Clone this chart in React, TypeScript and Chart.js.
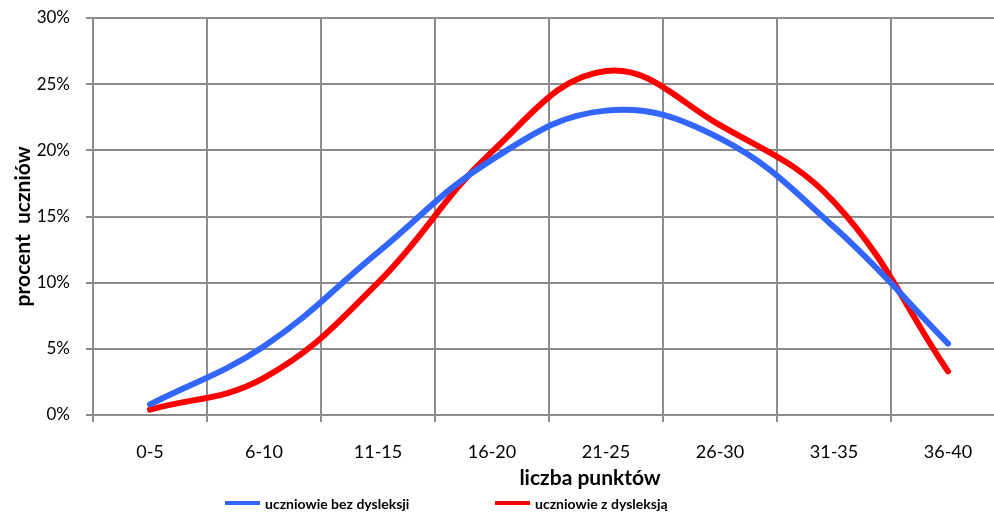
import React, { useEffect, useRef } from "react";
import { Chart, registerables } from "chart.js";

Chart.register(...registerables);

// Score ranges (points) and share of students in each range (%)
const categories = ["0-5", "6-10", "11-15", "16-20", "21-25", "26-30", "31-35", "36-40"];
const withoutDyslexia = [0.8, 5.2, 12.3, 19.3, 23.0, 20.9, 14.2, 5.4];
const withDyslexia = [0.4, 2.8, 10.0, 19.9, 26.0, 21.9, 16.1, 3.3];
const yTicks = [0, 5, 10, 15, 20, 25, 30];

const seriesLabels = ["uczniowie bez dysleksji", "uczniowie z dysleksją"];
const seriesColors = ["#3366FF", "#FF0000"];
const xTitle = "liczba punktów";
const yTitle = "procent  uczniów";

const FONT = "Lato, 'Open Sans', sans-serif";

// Axis titles, placed relative to the plot area
const axisTitlesPlugin = {
  id: "axisTitlesPlugin",
  afterDraw(chart: any) {
    const { ctx, chartArea } = chart;
    const w = chartArea.right - chartArea.left;
    const h = chartArea.bottom - chartArea.top;
    ctx.save();
    ctx.font = `bold 21px ${FONT}`;
    ctx.fillStyle = "#000";
    ctx.textAlign = "center";
    ctx.textBaseline = "middle";
    ctx.fillText(xTitle, chartArea.left + w * 0.545, chartArea.bottom + 63);
    ctx.translate(23, chartArea.top + h * 0.525);
    ctx.rotate(-Math.PI / 2);
    ctx.fillText(yTitle, 0, 0);
    ctx.restore();
  },
};

export default function App() {
  const canvasRef = useRef<HTMLCanvasElement | null>(null);

  useEffect(() => {
    if (!canvasRef.current) return;
    const chart = new Chart(canvasRef.current, {
      type: "line",
      data: {
        labels: categories,
        datasets: [
          {
            label: seriesLabels[0],
            data: withoutDyslexia,
            borderColor: seriesColors[0],
            backgroundColor: seriesColors[0],
            borderWidth: 6,
            pointRadius: 0,
            tension: 0.4,
            borderCapStyle: "round",
            borderJoinStyle: "round",
          },
          {
            label: seriesLabels[1],
            data: withDyslexia,
            borderColor: seriesColors[1],
            backgroundColor: seriesColors[1],
            borderWidth: 6,
            pointRadius: 0,
            tension: 0.4,
            borderCapStyle: "round",
            borderJoinStyle: "round",
          },
        ],
      },
      options: {
        responsive: false,
        animation: false,
        devicePixelRatio: 1,
        layout: { padding: { left: 0, right: 15, top: 18, bottom: 0 } },
        plugins: {
          legend: { display: false },
          tooltip: { enabled: false },
        },
        scales: {
          x: {
            type: "category",
            offset: true,
            grid: {
              offset: true,
              color: "#8C8C8C",
              lineWidth: 2,
              tickLength: 7,
              drawTicks: true,
            },
            border: { color: "#8C8C8C", width: 2 },
            ticks: {
              color: "#000",
              font: { family: FONT, size: 18 },
              padding: 19,
              maxRotation: 0,
              autoSkip: false,
            },
            afterFit(scale: any) {
              scale.height = 101;
              scale.paddingLeft = 0;
              scale.paddingRight = 0;
            },
          },
          y: {
            min: 0,
            max: 30,
            afterBuildTicks(scale: any) {
              scale.ticks = yTicks.map((v) => ({ value: v }));
            },
            grid: {
              color: "#8C8C8C",
              lineWidth: 2,
              tickLength: 7,
            },
            border: { color: "#8C8C8C", width: 2 },
            ticks: {
              color: "#000",
              font: { family: FONT, size: 17 },
              padding: 16,
              callback: (v: any) => `${v}%`,
            },
            afterFit(scale: any) {
              scale.width = 93;
              scale.paddingTop = 0;
              scale.paddingBottom = 0;
            },
          },
        },
      },
      plugins: [axisTitlesPlugin],
    });
    return () => chart.destroy();
  }, []);

  const legendItem = (i: number, left: number) => (
    <div
      key={i}
      style={{
        position: "absolute",
        left,
        top: 493,
        height: 20,
        display: "flex",
        alignItems: "center",
        fontFamily: FONT,
        fontWeight: "bold",
        fontSize: 14,
        color: "#000",
        whiteSpace: "nowrap",
      }}
    >
      <span
        style={{
          display: "inline-block",
          width: 35,
          height: 4,
          background: seriesColors[i],
          marginRight: 5,
        }}
      />
      {seriesLabels[i]}
    </div>
  );

  return (
    <div
      style={{
        position: "fixed",
        left: 0,
        top: 0,
        width: 994,
        height: 516,
        overflow: "hidden",
        background: "#fff",
      }}
    >
      <canvas ref={canvasRef} width={1020} height={516} style={{ display: "block" }} />
      {legendItem(0, 225)}
      {legendItem(1, 495)}
    </div>
  );
}
